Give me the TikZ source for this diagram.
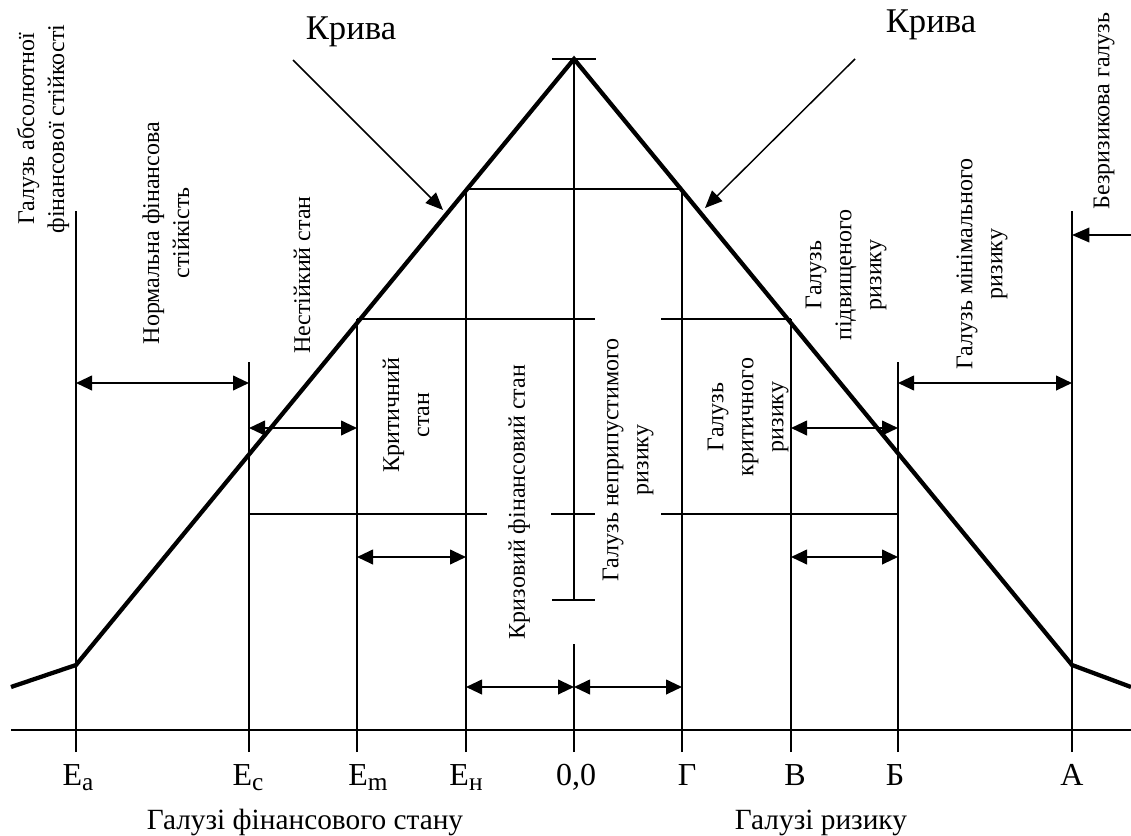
\documentclass[tikz,border=0pt]{standalone}
\usepackage{fontspec}
\setmainfont{Liberation Serif}
\usetikzlibrary{arrows.meta}

\newcommand{\lowsub}[1]{\raisebox{-4pt}{\fontsize{19}{19}\selectfont #1}}

\tikzset{
  curve/.style={line width=3.2pt},
  gridline/.style={line width=1.5pt},
  dim/.style={line width=1.5pt, {Triangle[length=12pt,width=11pt]}-{Triangle[length=12pt,width=11pt]}},
  ptr/.style={line width=1.1pt, -{Triangle[length=13pt,width=11pt]}},
  axislbl/.style={anchor=base, font=\fontsize{24}{28}\selectfont},
  vtext/.style={rotate=90, align=center, inner sep=1pt, font=\fontsize{18}{22.5}\selectfont},
  cover/.style={vtext, fill=white, inner sep=3pt}
}

\begin{document}
\begin{tikzpicture}[x=0.75pt,y=-0.75pt]
\useasboundingbox (0,0) rectangle (1131,835);

% points on the axis
\foreach \n/\x in {Ea/76,Ec/249,Em/357,En/466,O/574,G/682,V/791,B/898,A/1072}
  \coordinate (\n) at (\x,752);

% axis and verticals
\draw[gridline] (11,730) -- (1131,730);
\draw[gridline] (Ea) -- (Ea |- 0,211);
\draw[gridline] (Ec) -- (Ec |- 0,362);
\draw[gridline] (Em) -- (Em |- 0,319);
\draw[gridline] (En) -- (En |- 0,189);
\draw[gridline] (G) -- (G |- 0,189);
\draw[gridline] (V) -- (V |- 0,319);
\draw[gridline] (B) -- (B |- 0,362);
\draw[gridline] (A) -- (A |- 0,211);
\draw[gridline] (O) -- (O |- 0,644);

% horizontal levels
\draw[gridline] (En |- 0,189) -- (G |- 0,189);
\draw[gridline] (Em |- 0,319) -- (V |- 0,319);
\draw[gridline] (Ec |- 0,514) -- (B |- 0,514);

% centre line with ticks
\draw[gridline] (O |- 0,59) -- (O |- 0,600);
\draw[gridline] (552,59) -- (596,59);
\draw[gridline] (552,514) -- (596,514);
\draw[gridline] (552,600) -- (596,600);

% the curve
\draw[curve] (11,687) -- (Ea |- 0,665) -- (O |- 0,59) -- (A |- 0,665) -- (1131,687);

% ranges
\draw[dim] (Ea |- 0,383) -- (Ec |- 0,383);
\draw[dim] (Ec |- 0,428) -- (Em |- 0,428);
\draw[dim] (Em |- 0,557) -- (En |- 0,557);
\draw[dim] (En |- 0,687) -- (O |- 0,687);
\draw[dim] (O |- 0,687) -- (G |- 0,687);
\draw[dim] (V |- 0,428) -- (B |- 0,428);
\draw[dim] (V |- 0,557) -- (B |- 0,557);
\draw[dim] (B |- 0,383) -- (A |- 0,383);
\coordinate (safe) at (1131,235);
\draw[ptr] (safe) -- (A |- 0,235);

% curve labels
\node[font=\fontsize{26}{30}\selectfont] (kl) at (351,32) {Крива};
\node[font=\fontsize{26}{30}\selectfont] (kr) at (931,25) {Крива};
\coordinate (klfrom) at (293,60);
\coordinate (klto) at (443,210);
\coordinate (krfrom) at (855,59);
\coordinate (krto) at (705,208);
\draw[ptr] (klfrom) -- (klto);
\draw[ptr] (krfrom) -- (krto);

% zone texts
\node[vtext] (absol) at (43,129) {Галузь абсолютної\\фінансової стійкості};
\node[vtext] (norm) at (166,233) {Нормальна фінансова\\стійкість};
\node[vtext] (unst) at (302,275) {Нестійкий стан};
\node[vtext] (crit) at (406,415) {Критичний\\стан};
\node[cover, minimum height=48.5pt] (crisis) at (519,502) {Кризовий фінансовий стан};
\node[cover, minimum height=49.5pt, minimum width=217pt] (inadm) at (628,460) {Галузь неприпустимого\\ризику};
\node[vtext] (critrisk) at (748,417) {Галузь\\критичного\\ризику};
\node[vtext] (highrisk) at (846,275) {Галузь\\підвищеного\\ризику};
\node[vtext] (minrisk) at (982,264) {Галузь мінімального\\ризику};
\node[vtext] (norisk) at (1104,111) {Безризикова галузь};

% axis labels
\node[axislbl] (lEa) at (78,785) {Е\lowsub{а}};
\node[axislbl] (lEc) at (248,785) {Е\lowsub{с}};
\node[axislbl] (lEm) at (368,785) {Е\lowsub{m}};
\node[axislbl] (lEn) at (466,785) {Е\lowsub{н}};
\node[axislbl] (lO) at (576,785) {0,0};
\node[axislbl] (lG) at (687,785) {Г};
\node[axislbl] (lV) at (795,785) {В};
\node[axislbl] (lB) at (895,785) {Б};
\node[axislbl] (lA) at (1072,785) {А};

\node[anchor=base, font=\fontsize{22}{26}\selectfont] (finst) at (305,829) {Галузі фінансового стану};
\node[anchor=base, font=\fontsize{22}{26}\selectfont] (riskz) at (821,829) {Галузі ризику};
\end{tikzpicture}
\end{document}
